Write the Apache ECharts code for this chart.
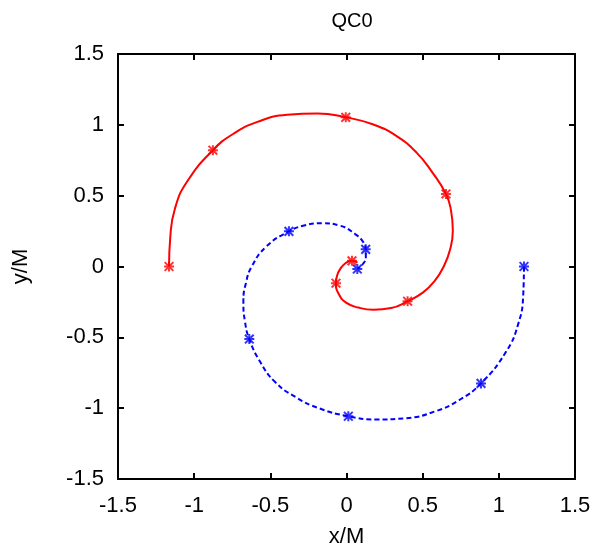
<!DOCTYPE html>
<html>
<head>
<meta charset="utf-8">
<script src="https://cdn.jsdelivr.net/npm/echarts@6/dist/echarts.min.js"></script>
<style>html,body{margin:0;padding:0;background:#fff}#c{width:596px;height:553px}</style>
</head>
<body>
<div id="c"></div>
<script>
var titleText = 'QC0';
var xName = 'x/M';
var yName = 'y/M';
var axisMin = -1.5, axisMax = 1.5, axisStep = 0.5;

var redCurve = [[-1.165,0],[-1.157,0.204],[-1.126,0.410],[-1.044,0.603],[-0.877,0.821],[-0.743,0.937],[-0.589,1.019],[-0.390,1.071],[-0.190,1.080],[-0.005,1.053],[0.177,1.002],[0.334,0.917],[0.463,0.800],[0.561,0.668],[0.653,0.512],[0.686,0.396],[0.698,0.254],[0.680,0.120],[0.638,0],[0.579,-0.102],[0.503,-0.183],[0.401,-0.245],[0.293,-0.293],[0.176,-0.305],[0.078,-0.290],[0,-0.257],[-0.052,-0.193],[-0.069,-0.118],[-0.062,-0.065],[-0.040,-0.015],[-0.005,0.025],[0.036,0.040],[0.072,0.028]];
var blueCurve = [[1.165,0],[1.160,-0.205],[1.126,-0.410],[1.046,-0.604],[0.883,-0.825],[0.738,-0.944],[0.589,-1.020],[0.390,-1.071],[0.190,-1.080],[0.012,-1.057],[-0.177,-1.002],[-0.335,-0.921],[-0.470,-0.814],[-0.566,-0.674],[-0.638,-0.512],[-0.667,-0.385],[-0.677,-0.246],[-0.660,-0.116],[-0.622,0],[-0.526,0.141],[-0.378,0.248],[-0.271,0.291],[-0.162,0.305],[-0.043,0.288],[0.057,0.229],[0.110,0.172],[0.126,0.121],[0.127,0.068],[0.110,0.021],[0.071,-0.018]];
var redMarks = [[-1.165,0],[-0.877,0.821],[-0.005,1.053],[0.653,0.512],[0.401,-0.245],[-0.069,-0.118],[0.036,0.040]];
var blueMarks = [[1.165,0],[0.883,-0.825],[0.012,-1.057],[-0.638,-0.512],[-0.378,0.248],[0.126,0.121],[0.071,-0.018]];

var star = 'path://M0,0L8,8M0,8L8,0M4,-0.6L4,8.6M-0.6,4L8.6,4';
var font = 'Liberation Sans, Arial, sans-serif';

var chart = echarts.init(document.getElementById('c'));
function axisCommon(showLabel, pos) {
  return {
    type: 'value', min: axisMin, max: axisMax, interval: axisStep,
    position: pos,
    axisLine: {show: true, onZero: false, lineStyle: {color: '#000', width: 2}},
    axisTick: {show: true, inside: true, length: 6, lineStyle: {color: '#000', width: 2}},
    axisLabel: {show: showLabel, color: '#000', fontSize: 22, fontFamily: font, margin: 14},
    splitLine: {show: false}
  };
}
var xa = axisCommon(true, 'bottom');
xa.axisLabel.margin = 16;
xa.name = xName; xa.nameLocation = 'middle'; xa.nameGap = 47;
xa.nameTextStyle = {color: '#000', fontSize: 22, fontFamily: font};
var xb = axisCommon(false, 'top');
var ya = axisCommon(true, 'left');
ya.name = yName; ya.nameLocation = 'middle'; ya.nameGap = 86; ya.nameRotate = 90;
ya.nameTextStyle = {color: '#000', fontSize: 22, fontFamily: font};
var yb = axisCommon(false, 'right');

chart.setOption({
  animation: false,
  backgroundColor: '#fff',
  title: {text: titleText, left: 347, textAlign: 'center', top: 6, textStyle: {color: '#000', fontSize: 20, fontWeight: 'normal', fontFamily: font}},
  grid: {left: 118, right: 21, top: 54, bottom: 67},
  xAxis: [xa, xb],
  yAxis: [ya, yb],
  series: [
    {type: 'line', data: redCurve, smooth: 0.5, showSymbol: false, lineStyle: {color: '#ff0000', width: 2}, z: 2},
    {type: 'line', data: blueCurve, smooth: 0.5, showSymbol: false, lineStyle: {color: '#0000ff', width: 2, type: [5, 3]}, z: 2},
    {type: 'scatter', data: redMarks, symbol: star, symbolSize: 10, itemStyle: {color: 'transparent', borderColor: '#ff0000', borderWidth: 2}, z: 3},
    {type: 'scatter', data: blueMarks, symbol: star, symbolSize: 10, itemStyle: {color: 'transparent', borderColor: '#0000ff', borderWidth: 2}, z: 3}
  ]
});
</script>
</body>
</html>
